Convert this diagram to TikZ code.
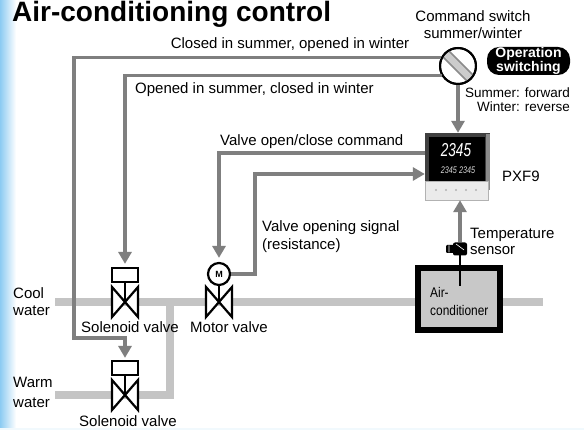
\documentclass[tikz,border=0pt]{standalone}
\usepackage{fontspec}
\setmainfont{Liberation Sans}
\usetikzlibrary{arrows.meta,calc}
\definecolor{sigc}{HTML}{7F7F7F}
\definecolor{pipec}{HTML}{C4C4C4}
\definecolor{acfill}{HTML}{C8C8C8}
\definecolor{edgeblue}{HTML}{8CCBF2}
\tikzset{
  lbl/.style={inner sep=0pt, text height=11pt, text depth=3pt, font=\fontsize{15}{17}\selectfont},
  sigline/.style={draw=sigc, line width=3.2pt},
  sigarrow/.style={sigline, -{Triangle[length=12pt,width=13pt]}},
  pipeline/.style={draw=pipec, line width=8pt},
  valvestyle/.style={draw=black, fill=white, line width=2.2pt, line join=miter},
  solbox/.style={draw=black, fill=white, line width=2.2pt, minimum width=26pt, minimum height=14pt, inner sep=0pt},
  bowtie/.pic={\draw[valvestyle] (-13,-15) -- (13,15) -- (13,-15) -- (-13,15) -- cycle;}
}
\begin{document}
\begin{tikzpicture}[x=1pt,y=-1pt]
\useasboundingbox (0,0) rectangle (584,430);
\fill[white] (0,0) rectangle (584,430);
% page edge tint
\shade[left color=edgeblue, right color=white] (0,0) rectangle (16,430);
\fill[edgeblue!12] (0,428) rectangle (584,430);

% title
\node[anchor=base west, inner sep=0pt, font=\fontsize{28}{30}\selectfont\bfseries] (title) at (12,21.5) {Air-conditioning control};

% water pipes
\draw[pipeline] (55,302) -- (543,302);
\draw[pipeline, line join=miter] (55,395) -- (170,395) -- (170,302);

% air conditioner
\node[draw=black, fill=acfill, line width=6pt, minimum width=82pt, minimum height=62pt, inner sep=0pt] (ac) at (459,299) {};
\node[anchor=west, inner sep=0pt, align=left, font=\fontsize{14}{18}\selectfont] (actext) at (430,301)
  {\scalebox{0.85}[1]{Air-}\\\scalebox{0.85}[1]{conditioner}};

% temperature sensor
\draw[black, line width=2.5pt] (460,250) -- (460,286);
\node[fill=black, rounded corners=2pt, minimum width=14pt, minimum height=13pt, inner sep=0pt] (ts) at (460,249) {};
\fill[black, rounded corners=1pt] (446,245) rectangle (454,253);
\draw[white, line width=0.6pt] (449,245.5) -- (449,252.5) (456,244) -- (464,250);

% solenoid valves
\node[solbox] (sv1) at (125,275) {};
\draw[black, line width=2.2pt] (sv1.south) -- ++(0,20);
\pic at (125,302) {bowtie};
\node[solbox] (sv2) at (125,368) {};
\draw[black, line width=2.2pt] (sv2.south) -- ++(0,20);
\pic at (125,395) {bowtie};

% motor valve
\node[circle, draw=black, fill=white, line width=2.2pt, minimum size=22pt, inner sep=0pt,
      font=\fontsize{9}{9}\selectfont\bfseries] (mv) at (219,274) {M};
\draw[black, line width=2.2pt] (mv.south) -- ++(0,17);
\pic at (219,302) {bowtie};

% PXF9 controller
\node[minimum width=65pt, minimum height=67pt, inner sep=0pt] (pxf) at (457.5,166.5) {};
\fill[black!75] (425,133) rectangle (490,190);
\fill[black!45] (486,134) rectangle (490,190);
\fill[black] (429,137) rectangle (485,181);
\fill[black!8] (425,181) rectangle (488,200);
\draw[black!30, line width=0.4pt] (425,181) rectangle (488,200);
\node[inner sep=0pt, text=white, font=\fontsize{17}{17}\selectfont] (disp) at (456,150) {\scalebox{0.8}[1.1]{\itshape 2345}};
\node[inner sep=0pt, text=black!15, font=\fontsize{8}{8}\selectfont] (disp2) at (458,170) {\scalebox{0.9}[1.2]{\itshape 2345\,\,2345}};
\foreach \bx in {436,446,456,466,476} \fill[black!30] (\bx,190) circle (1.2);
\node[lbl, anchor=west] (pxfl) at (502,178) {PXF9};

% command switch
\node[circle, draw=black, fill=white, line width=2pt, minimum size=36pt, inner sep=0pt] (sw) at (458,66) {};
\begin{scope}
  \clip (sw.center) circle (17pt);
  \draw[black!45, line width=10pt] ($(sw.center)+(-20,-20)$) -- ($(sw.center)+(20,20)$);
  \draw[black!20, line width=6.5pt] ($(sw.center)+(-20,-20)$) -- ($(sw.center)+(20,20)$);
\end{scope}
\node[draw=black, circle, line width=2pt, minimum size=36pt, inner sep=0pt] at (sw.center) {};
\node[fill=black, rounded corners=12pt, minimum width=83pt, minimum height=28pt, inner sep=0pt,
      text=white, align=center, font=\fontsize{14}{13}\selectfont\bfseries] (ops) at (528.5,61) {Operation\\switching};

% signal lines
\coordinate (c1) at (74,338);
\draw[sigarrow, shorten >=2pt] (sw.154) -| (c1) -| (sv2.north);
\draw[sigarrow, shorten >=3pt] (sw.210) -| (sv1.north);
\draw[sigarrow] (sw.south) -- (sw.south |- pxf.north);
\coordinate (pw1) at ($(pxf.west)+(0,-13.5)$);
\draw[sigarrow, shorten >=4pt] (pw1) -| (mv.north);
\coordinate (c3) at (255,174);
\draw[sigarrow] (mv.east) -| (c3) -- (c3 -| pxf.west);
\draw[sigarrow] (ts.north) -- (ts.north |- pxf.south);

% labels
\node[lbl, align=center] (cmd1) at (473,18) {Command switch};
\node[lbl, align=center] (cmd2) at (473,35) {summer/winter};
\node[lbl] (closedl) at (290,45) {Closed in summer, opened in winter};
\node[lbl, anchor=west] (openl) at (135,90) {Opened in summer, closed in winter};
\node[lbl, anchor=east, font=\fontsize{13.5}{15}\selectfont] (sf) at (570,94) {Summer: forward};
\node[lbl, anchor=east, font=\fontsize{13.5}{15}\selectfont] (wr) at (570,108) {Winter: reverse};
\node[lbl, anchor=west] (vcmd) at (220,142) {Valve open/close command};
\node[lbl, anchor=west] (vsig1) at (262,228) {Valve opening signal};
\node[lbl, anchor=west] (vsig2) at (262,246) {(resistance)};
\node[lbl, anchor=west] (tsl1) at (470,235) {Temperature};
\node[lbl, anchor=west] (tsl2) at (470,251) {sensor};
\node[lbl, anchor=west] (cool1) at (13,295) {Cool};
\node[lbl, anchor=west] (cool2) at (13,312) {water};
\node[lbl, anchor=west] (warm1) at (13,384) {Warm};
\node[lbl, anchor=west] (warm2) at (13,403) {water};
\node[lbl] (svl1) at (130,329) {Solenoid valve};
\node[lbl] (mvl) at (229,329) {Motor valve};
\node[lbl] (svl2) at (128,422) {Solenoid valve};
\end{tikzpicture}
\end{document}
